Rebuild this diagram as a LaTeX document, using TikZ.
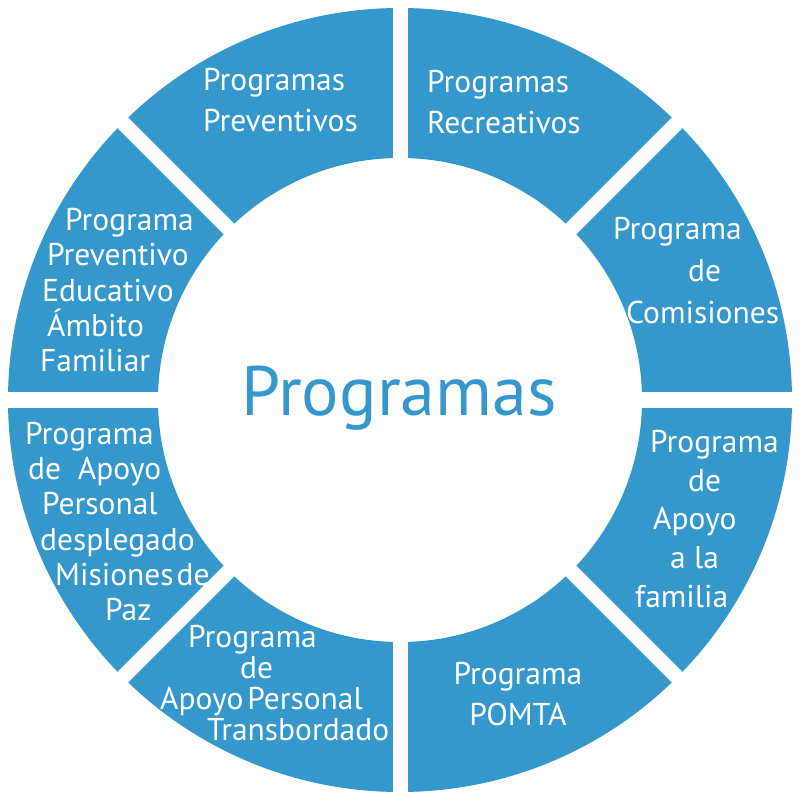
\documentclass[tikz,border=0pt]{standalone}
\usepackage{fontspec}
\setmainfont{PT Sans}
\definecolor{progblue}{RGB}{52,152,204}

\begin{document}
\begin{tikzpicture}[x=1pt,y=1pt,
  seg/.style={text=white,inner sep=0pt,align=left,anchor=north west},
  gap/.style={white,line width=15pt}]
\useasboundingbox (-400,-400) rectangle (400,400);
% ring of programmes
\fill[progblue,even odd rule] (0,0) circle (392) (0,0) circle (242);
\foreach \a in {0,45,90,135}
  \draw[gap] (\a:405) -- (\a+180:405);
\node[font=\fontsize{70}{74}\selectfont,text=progblue,anchor=base] (centre) at (-1,-16) {Programas};
% segments, clockwise from the top
\node[seg,font=\fontsize{31.5}{41}\selectfont] (recreativos) at (27,330) {Programas\\Recreativos};
\node[seg,font=\fontsize{31.5}{42}\selectfont] (comisiones) at (213,183)
  {Programa\\\hspace*{75pt}de\\\hspace*{13pt}Comisiones};
\node[seg,font=\fontsize{31.5}{38.7}\selectfont] (familia) at (235,-30)
  {\hspace*{15pt}Programa\\\hspace*{53pt}de\\\hspace*{18pt}Apoyo\\\hspace*{35pt}a la\\familia};
\node[seg,font=\fontsize{31.5}{41}\selectfont,align=center,anchor=north] (pomta) at (118,-262)
  {Programa\\POMTA};
\node[seg,font=\fontsize{31.5}{31}\selectfont] (transbordado) at (-240,-225)
  {\hspace*{28pt}Programa\\\hspace*{80pt}de\\Apoyo\hspace{4pt}Personal\\\hspace*{47pt}Transbordado};
\node[seg,font=\fontsize{31.5}{35.2}\selectfont] (paz) at (-375,-22)
  {Programa\\\hspace*{3pt}de\ \ Apoyo\\\hspace*{17pt}Personal\\\hspace*{15pt}desplegado\\\hspace*{30pt}Misiones\hspace{3pt}de\\\hspace*{80pt}Paz};
\node[seg,font=\fontsize{31.5}{35.25}\selectfont] (familiar) at (-360,192)
  {\hspace*{25pt}Programa\\\hspace*{7pt}Preventivo\\\hspace*{2pt}Educativo\\\hspace*{7pt}Ámbito\\Familiar};
\node[seg,font=\fontsize{31.5}{41}\selectfont] (preventivos) at (-197,332) {Programas\\Preventivos};
\end{tikzpicture}
\end{document}
